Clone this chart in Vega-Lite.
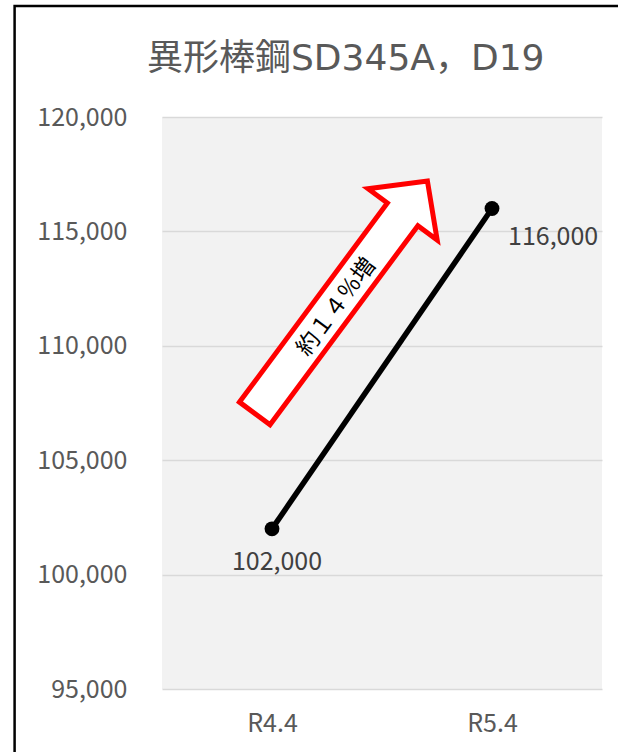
{
  "$schema": "https://vega.github.io/schema/vega-lite/v6.json",
  "width": 440,
  "height": 572,
  "autosize": {"type": "none"},
  "padding": {"left": 162, "top": 117, "right": 16, "bottom": 63},
  "background": "white",
  "title": {
    "text": "異形棒鋼SD345A，D19",
    "anchor": "start",
    "frame": "group",
    "dx": -15,
    "dy": 95,
    "offset": 22,
    "fontSize": 36,
    "font": "DejaVu Sans, Noto Sans CJK JP",
    "fontWeight": "normal",
    "color": "#595959"
  },
  "config": {
    "view": {"fill": "#f2f2f2", "stroke": null},
    "font": "Noto Sans CJK JP"
  },
  "data": {
    "values": [
      {"period": "R4.4", "price": 102000},
      {"period": "R5.4", "price": 116000}
    ]
  },
  "layer": [
    {
      "encoding": {
        "x": {
          "field": "period",
          "type": "nominal",
          "sort": null,
          "axis": {
            "title": null,
            "domain": false,
            "ticks": false,
            "grid": false,
            "labelAngle": 0,
            "labelFontSize": 25,
            "labelColor": "#595959",
            "labelPadding": 22,
            "labelFont": "Noto Sans CJK JP"
          }
        },
        "y": {
          "field": "price",
          "type": "quantitative",
          "scale": {"domain": [95000, 120000], "nice": false, "zero": false},
          "axis": {
            "title": null,
            "values": [95000, 100000, 105000, 110000, 115000, 120000],
            "format": ",.0f",
            "domain": false,
            "ticks": false,
            "grid": true,
            "gridColor": "#d9d9d9",
            "gridWidth": 1.5,
            "labelFontSize": 25,
            "labelColor": "#595959",
            "labelPadding": 35,
            "labelFont": "Noto Sans CJK JP"
          }
        }
      },
      "layer": [
        {"mark": {"type": "line", "color": "black", "strokeWidth": 5.5}},
        {"mark": {"type": "point", "filled": true, "color": "black", "size": 220, "opacity": 1}},
        {
          "transform": [{"filter": "datum.period === 'R4.4'"}],
          "mark": {"type": "text", "dx": 5, "dy": 33, "fontSize": 25, "color": "#404040", "align": "center", "baseline": "middle"},
          "encoding": {"text": {"field": "price", "type": "quantitative", "format": ",.0f"}}
        },
        {
          "transform": [{"filter": "datum.period === 'R5.4'"}],
          "mark": {"type": "text", "dx": 16, "dy": 28, "fontSize": 25, "color": "#404040", "align": "left", "baseline": "middle"},
          "encoding": {"text": {"field": "price", "type": "quantitative", "format": ",.0f"}}
        }
      ]
    },
    {
      "layer": [
        {
          "data": {"values": [{"pos": -1.17, "pos2": 2.2, "price": 124850, "price2": 88000}]},
          "mark": {"type": "rect", "filled": false, "stroke": "black", "strokeWidth": 2.5, "clip": false},
          "encoding": {
            "x": {"field": "pos", "type": "quantitative", "scale": {"domain": [-0.5, 1.5], "nice": false, "zero": false}, "axis": null},
            "x2": {"field": "pos2"},
            "y": {"field": "price", "type": "quantitative", "axis": null},
            "y2": {"field": "price2"}
          }
        },
        {
          "data": {"values": [{"pos": 0.316, "price": 112150}]},
          "mark": {
            "type": "point",
            "shape": "M-0.98,-0.128L0.69,-0.128L0.69,-0.29L0.97,0L0.69,0.29L0.69,0.128L-0.98,0.128Z",
            "size": 88209,
            "angle": -53.4,
            "filled": true,
            "fill": "white",
            "stroke": "#ff0000",
            "strokeWidth": 5,
            "strokeJoin": "miter",
            "opacity": 1,
            "fillOpacity": 1,
            "strokeOpacity": 1
          },
          "encoding": {
            "x": {"field": "pos", "type": "quantitative"},
            "y": {"field": "price", "type": "quantitative", "axis": null}
          }
        },
        {
          "data": {"values": [{"pos": 0.293, "price": 111700, "label": "約１４％増"}]},
          "mark": {"type": "text", "angle": -53.4, "fontSize": 23, "font": "Noto Sans CJK JP", "color": "black", "align": "center", "baseline": "middle"},
          "encoding": {
            "x": {"field": "pos", "type": "quantitative"},
            "y": {"field": "price", "type": "quantitative", "axis": null},
            "text": {"field": "label"}
          }
        }
      ]
    }
  ],
  "resolve": {"scale": {"x": "independent"}, "axis": {"x": "independent", "y": "independent"}}
}
